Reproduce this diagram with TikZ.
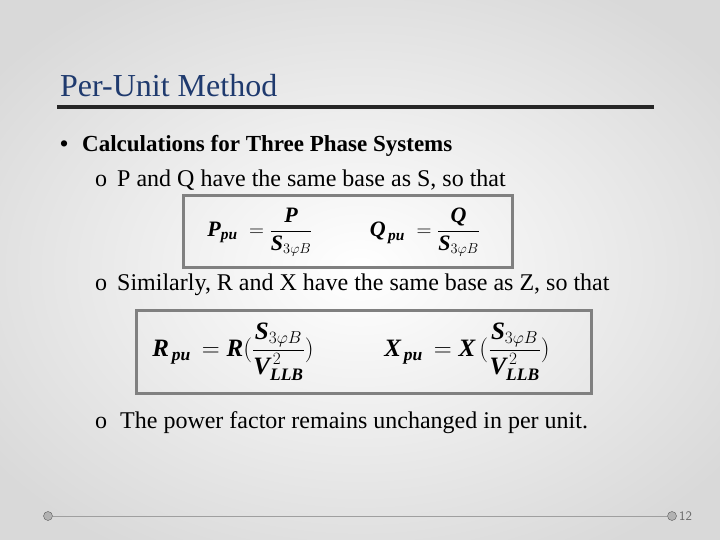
\documentclass[tikz,border=0pt]{standalone}
\usepackage{amsmath}
\usepackage{fontspec}
\setmainfont{Liberation Serif}
\usetikzlibrary{positioning}
\definecolor{titleblue}{HTML}{1F3A6E}
\definecolor{boxgray}{HTML}{808080}
\newcommand{\bi}[1]{\text{\bfseries\itshape #1}}
\tikzset{
  txt/.style={anchor=base west, inner sep=0pt, font=\fontsize{24}{28}\selectfont},
  eqbox/.style={draw=boxgray, line width=3pt, inner sep=0pt},
  eq/.style={inner sep=0pt, font=\fontsize{25}{30}\selectfont\bfseries},
  dot/.style={circle, draw=gray!70!black, fill=gray!60, minimum size=9pt, inner sep=0pt}
}
\begin{document}
\begin{tikzpicture}[x=1pt,y=-1pt]
\useasboundingbox (0,0) rectangle (720,540);
% background
\shade[inner color=white, outer color=gray!30] (-100,-60) rectangle (820,600);

% title and rule
\node[txt, font=\fontsize{32}{36}\selectfont, text=titleblue] (title) at (60,97) {Per-Unit Method};
\coordinate (rl) at (57,107);
\coordinate (rr) at (654,107);
\draw[line width=3.5pt, black!85] (rl) -- (rr);

% bullets
\node[txt, font=\fontsize{23}{28}\selectfont\bfseries] (b1) at (60,152) {\textbullet\hspace{14pt}Calculations for Three Phase Systems};
\node[txt] (b2) at (95,187) {o\hspace{10pt}P and Q have the same base as S, so that};
\node[txt] (b3) at (95,290) {o\hspace{10pt}Similarly, R and X have the same base as Z, so that};
\node[txt] (b4) at (95,428) {o\hspace{13pt}The power factor remains unchanged in per unit.};

% equation boxes
\draw[eqbox] (183,196) rectangle (512,267);
\node[eq, font=\fontsize{22}{26}\selectfont\bfseries] (eqp) at (260,232) {$\bi{P}_{\bi{pu}}\; = \dfrac{\bi{P}}{\bi{S}_{3\varphi B}}$};
\node[eq, font=\fontsize{22}{26}\selectfont\bfseries] (eqq) at (425,232) {$\bi{Q}_{\,\bi{pu}}\; = \dfrac{\bi{Q}}{\bi{S}_{3\varphi B}}$};

\draw[eqbox] (136,310) rectangle (591,393);
\node[eq] (eqr) at (233,352) {$\bi{R}_{\,\bi{pu}}\, = \bi{R}(\dfrac{\bi{S}_{3\varphi B}}{\bi{V}^{\,2}_{\bi{LLB}}})$};
\node[eq] (eqx) at (467,352) {$\bi{X}_{\,\bi{pu}}\, = \bi{X}\,(\dfrac{\bi{S}_{3\varphi B}}{\bi{V}^{\,2}_{\bi{LLB}}})$};

% footer
\node[dot] (fl) at (48,516) {};
\node[dot] (fr) at (672,516) {};
\draw[gray!75, line width=1pt] (fl) -- (fr);
\node[anchor=west, inner sep=0pt, font=\fontsize{13}{15}\selectfont\sffamily, text=gray!80!black] (pg) at (679,516) {12};
\end{tikzpicture}
\end{document}
